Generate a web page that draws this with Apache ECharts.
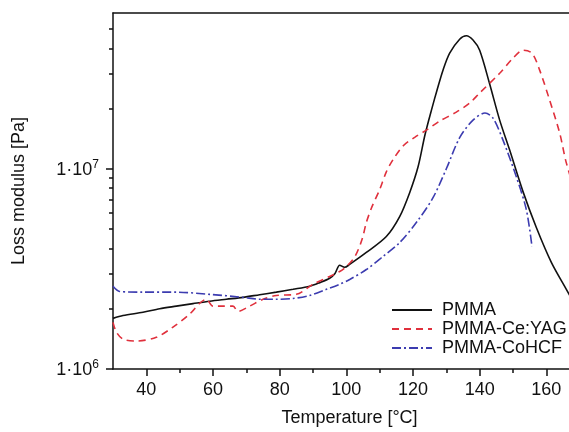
<!DOCTYPE html>
<html><head><meta charset="utf-8">
<script src="https://cdn.jsdelivr.net/npm/echarts@6/dist/echarts.min.js"></script>
<style>html,body{margin:0;padding:0;background:#fff;overflow:hidden}#c{width:569px;height:432px}</style>
</head><body><div id="c"></div>
<script>
// Temperature [°C] and loss modulus [Pa]
const pmmaT = [30,33,39,44,49,54,59,64,69,74,79,84,89,92,95,96.6,98,99.5,101,106,112,116,119,121.5,123.6,125.7,127.2,129,131,134,136,138,140,143,146,149,153,157,161.5,166,170];
const pmmaV = [1.79e6,1.85e6,1.92e6,2.0e6,2.06e6,2.12e6,2.18e6,2.23e6,2.28e6,2.35e6,2.42e6,2.5e6,2.59e6,2.7e6,2.84e6,3.0e6,3.3e6,3.22e6,3.33e6,3.82e6,4.59e6,5.77e6,7.6e6,1.02e7,1.48e7,2.01e7,2.47e7,3.11e7,3.78e7,4.44e7,4.62e7,4.4e7,3.91e7,2.65e7,1.75e7,1.24e7,7.69e6,5.09e6,3.41e6,2.5e6,1.9e6];

const yagT = [30,31,33,37,43,48,53,56,58,60,63,66,67.5,71,75,79,85,90,95,98,100,102.6,104.7,106,107.7,110,112,114,117,120.6,124,128,133,137,140,146,150,153,155.7,158,161,164,166,170];
const yagV = [1.71e6,1.53e6,1.41e6,1.38e6,1.44e6,1.62e6,1.88e6,2.13e6,2.23e6,2.06e6,2.06e6,2.06e6,1.94e6,2.06e6,2.23e6,2.33e6,2.36e6,2.65e6,2.9e6,3.07e6,3.25e6,3.65e6,4.43e6,5.39e6,6.47e6,7.87e6,9.66e6,1.11e7,1.3e7,1.44e7,1.56e7,1.73e7,1.92e7,2.13e7,2.39e7,3.0e7,3.57e7,3.91e7,3.78e7,3.11e7,2.2e7,1.51e7,1.07e7,6.5e6];

const cohcfT = [30,32,39,49,59,69,74,79,84,89,94,98,101,106,111,116,121,126,130,134,138,141.6,144,147,151,154,155.7];
const cohcfV = [2.59e6,2.44e6,2.42e6,2.42e6,2.36e6,2.28e6,2.23e6,2.23e6,2.25e6,2.33e6,2.5e6,2.65e6,2.8e6,3.14e6,3.65e6,4.28e6,5.39e6,7.17e6,1.0e7,1.43e7,1.75e7,1.9e7,1.79e7,1.39e7,9.12e6,6.25e6,4.09e6];

const seriesNames = ['PMMA','PMMA-Ce:YAG','PMMA-CoHCF'];
const xMajorTicks = [40,60,80,100,120,140,160];
const xMinorTicks = [50,70,90,110,130,150];
const yMajorTicks = [1e6,1e7];
const yMinorTicks = [2e6,3e6,4e6,5e6,6e6,7e6,8e6,9e6,2e7,3e7,4e7,5e7];
const X_MIN = 30, X_MAX = 166.8, Y_MIN = 1e6, Y_MAX = 6e7;

const zip = (a,b) => a.map((v,i)=>[v,b[i]]);
const FONT = 'Liberation Sans, Arial, sans-serif';
const chart = echarts.init(document.getElementById('c'), null, {renderer:'canvas'});
const axisLine = {show:true, onZero:false, lineStyle:{color:'#111', width:1.5}};
chart.setOption({
  animation:false,
  backgroundColor:'#fff',
  grid:{left:113, top:13, right:0, bottom:62, show:false, containLabel:false},
  legend:{
    orient:'vertical', left:386, top:296, itemWidth:40, itemHeight:14, itemGap:1,
    data:seriesNames,
    itemStyle:{opacity:0},
    textStyle:{fontFamily:FONT, fontSize:18, color:'#111', padding:[0,0,0,5]}
  },
  xAxis:[{
    type:'value', min:X_MIN, max:X_MAX, position:'bottom',
    name:'Temperature [°C]', nameLocation:'middle', nameGap:40,
    nameTextStyle:{fontFamily:FONT, fontSize:18, color:'#111', padding:[0,0,0,17]},
    axisLine:axisLine,
    axisTick:{show:true, inside:false, length:7, customValues:xMajorTicks, lineStyle:{color:'#111', width:1.5}},
    axisLabel:{customValues:xMajorTicks, margin:12, fontFamily:FONT, fontSize:18, color:'#111'},
    splitLine:{show:false}
  },{
    type:'value', min:X_MIN, max:X_MAX, position:'bottom', offset:0,
    axisLine:{show:false, onZero:false},
    axisTick:{show:true, inside:false, length:4, customValues:xMinorTicks, lineStyle:{color:'#111', width:1.5}},
    axisLabel:{show:false},
    splitLine:{show:false}
  },{
    type:'value', min:X_MIN, max:X_MAX, position:'top', offset:0,
    axisLine:axisLine,
    axisTick:{show:false}, axisLabel:{show:false}, splitLine:{show:false}
  }],
  yAxis:[{
    type:'log', logBase:10, min:Y_MIN, max:Y_MAX, position:'left',
    name:'Loss modulus [Pa]', nameLocation:'middle', nameGap:85, nameRotate:90,
    nameTextStyle:{fontFamily:FONT, fontSize:18, color:'#111'},
    axisLine:axisLine,
    axisTick:{show:true, inside:false, length:7, customValues:yMajorTicks, lineStyle:{color:'#111', width:1.5}},
    axisLabel:{
      customValues:yMajorTicks, margin:14,
      formatter:function(v){ const e = Math.round(Math.log10(v)); return '{a|1·10}{s|' + e + '}'; },
      rich:{
        a:{fontFamily:FONT, fontSize:18, color:'#111', lineHeight:21, verticalAlign:'bottom'},
        s:{fontFamily:FONT, fontSize:12, color:'#111', lineHeight:12, verticalAlign:'top'}
      }
    },
    splitLine:{show:false}
  },{
    type:'log', logBase:10, min:Y_MIN, max:Y_MAX, position:'left', offset:0,
    axisLine:{show:false, onZero:false},
    axisTick:{show:true, inside:false, length:4, customValues:yMinorTicks, lineStyle:{color:'#111', width:1.5}},
    axisLabel:{show:false},
    splitLine:{show:false}
  }],
  series:[
    {name:seriesNames[0], type:'line', data:zip(pmmaT,pmmaV), symbol:'none', smooth:0.3,
     xAxisIndex:0, yAxisIndex:0, lineStyle:{color:'#111', width:1.6, type:'solid'}, itemStyle:{color:'#111'}},
    {name:seriesNames[1], type:'line', data:zip(yagT,yagV), symbol:'none', smooth:0.3,
     xAxisIndex:0, yAxisIndex:0, lineStyle:{color:'#e0303c', width:1.6, type:[7,5]}, itemStyle:{color:'#e0303c'}},
    {name:seriesNames[2], type:'line', data:zip(cohcfT,cohcfV), symbol:'none', smooth:0.3,
     xAxisIndex:0, yAxisIndex:0, lineStyle:{color:'#3c3cb0', width:1.6, type:[9,3,2,3]}, itemStyle:{color:'#3c3cb0'}}
  ]
});
</script></body></html>
